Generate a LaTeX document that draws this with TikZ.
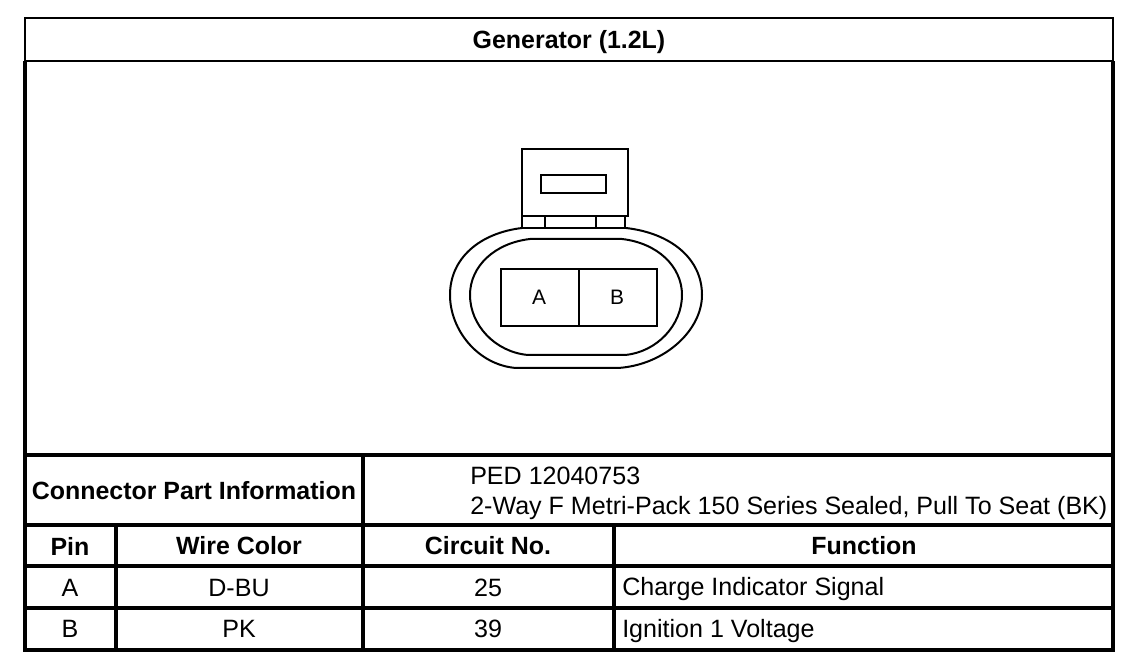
\documentclass[tikz,border=0pt]{standalone}
\usepackage{fontspec}
\setmainfont{Liberation Sans}
\tikzset{
  gridline/.style={line width=2.1pt},
  rowline/.style={line width=2.8pt},
  partline/.style={line width=1.5pt},
  headtext/.style={inner sep=0.75pt,font=\fontsize{18.7}{22}\selectfont\bfseries},
  celltext/.style={inner sep=0.75pt,font=\fontsize{18.8}{22}\selectfont},
  pintext/.style={inner sep=0.75pt,font=\fontsize{15.7}{18}\selectfont}
}
\begin{document}
\begin{tikzpicture}[x=0.75pt,y=0.75pt,yscale=-1,xscale=1]
\useasboundingbox (0,0) rectangle (1136,670);

%Table frame
\draw [gridline] (25,18) rectangle (1113,61);
\draw [rowline] (25,61) -- (25,650) -- (1113,650) -- (1113,61);
\draw [rowline] (25,455) -- (1113,455);
\draw [rowline] (25,525) -- (1113,525);
\draw [rowline] (25,566) -- (1113,566);
\draw [rowline] (25,608) -- (1113,608);
\draw [rowline] (116,525) -- (116,650);
\draw [rowline] (363,455) -- (363,650);
\draw [rowline] (614,525) -- (614,650);

%Connector tab
\draw [partline] (522,228) -- (522,149) -- (628,149) -- (628,216) -- (522,216);
\draw [partline] (541,175) rectangle (606,193);
\draw [partline] (522,228) -- (626,228);
\draw [partline] (545,216) -- (545,228);
\draw [partline] (596,216) -- (596,228);
\draw [partline] (625,216) -- (625,228);

%Outer oval
\draw [partline] (522,228) .. controls (480,233) and (450,258) .. (450,295) .. controls (450,330) and (478,365) .. (516,368) -- (618,368) .. controls (665,365) and (702,330) .. (702,295) .. controls (702,258) and (670,233) .. (626,228);
%Inner oval
\draw [partline] (530,239) .. controls (495,243) and (470,266) .. (470,295) .. controls (470,325) and (495,352) .. (528,355) -- (625,355) .. controls (657,352) and (682,325) .. (682,295) .. controls (682,266) and (657,243) .. (622,239) -- cycle;

%Pin block
\draw [partline] (501,269) rectangle (657,326);
\draw [partline] (579,269) -- (579,326);
\node (pinA) [pintext] at (539,297) {A};
\node (pinB) [pintext] at (617,297) {B};

% Text Node
\node (title) [headtext] at (569,42) {Generator (1.2L)};
\node (partinfo) [headtext] at (194,491) {Connector Part Information};
\node (ped) [celltext,anchor=base west] at (469,484) {PED 12040753};
\node (series) [celltext,anchor=base west] at (469,514) {2-Way F Metri-Pack 150 Series Sealed, Pull To Seat (BK)};
\node (hpin) [headtext] at (70,546) {Pin};
\node (hwire) [headtext] at (239,546) {Wire Color};
\node (hcircuit) [headtext] at (488,546) {Circuit No.};
\node (hfunction) [headtext] at (864,546) {Function};
\node (rowApin) [celltext] at (70,588) {A};
\node (rowAwire) [celltext] at (239,588) {D-BU};
\node (rowAcircuit) [celltext] at (488,588) {25};
\node (rowAfunction) [celltext,anchor=base west] at (621,595) {Charge Indicator Signal};
\node (rowBpin) [celltext] at (70,629) {B};
\node (rowBwire) [celltext] at (239,629) {PK};
\node (rowBcircuit) [celltext] at (488,629) {39};
\node (rowBfunction) [celltext,anchor=base west] at (621,637) {Ignition 1 Voltage};

\end{tikzpicture}
\end{document}
